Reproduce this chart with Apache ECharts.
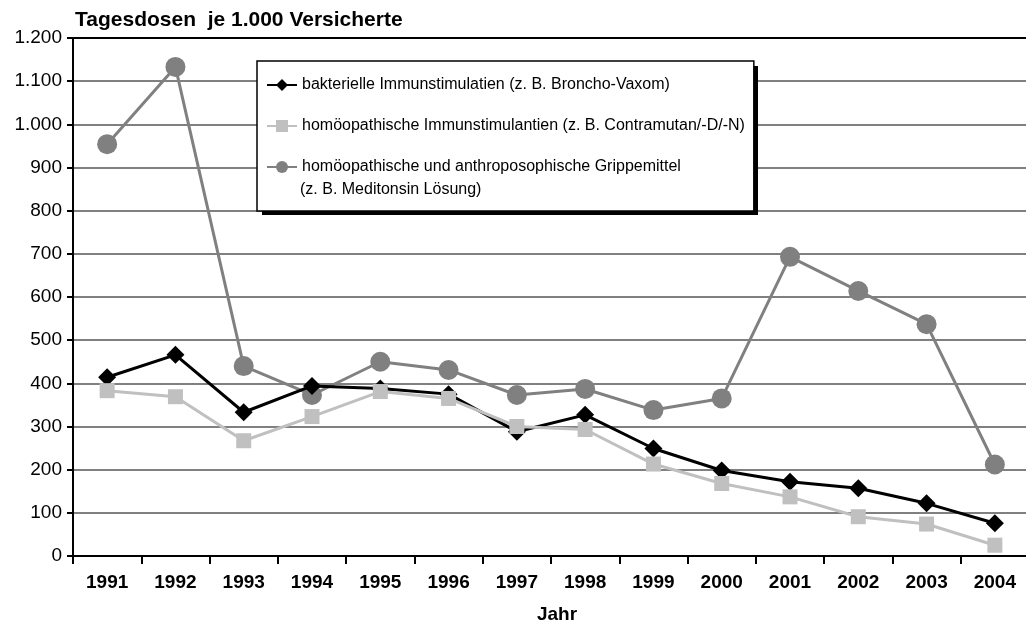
<!DOCTYPE html>
<html>
<head>
<meta charset="utf-8">
<script src="https://cdn.jsdelivr.net/npm/echarts@6/dist/echarts.min.js"></script>
<style>
  html, body { margin: 0; padding: 0; background: #fff; }
  #chart { width: 1026px; height: 623px; }
</style>
</head>
<body>
<div id="chart"></div>
<script>
// values
var years = ['1991', '1992', '1993', '1994', '1995', '1996', '1997',
             '1998', '1999', '2000', '2001', '2002', '2003', '2004'];
var bakterielle = [414, 466, 333, 394, 388, 375, 288, 327, 249, 198, 172, 157, 122, 76];
var homoeoImmun = [383, 369, 267, 323, 381, 365, 300, 293, 213, 168, 137, 91, 74, 25];
var grippemittel = [954, 1133, 440, 373, 450, 431, 373, 387, 338, 365, 693, 614, 537, 212];

var names = [
  'bakterielle Immunstimulatien (z. B. Broncho-Vaxom)',
  'homöopathische Immunstimulantien (z. B. Contramutan/-D/-N)',
  'homöopathische und anthroposophische Grippemittel'
];
var nameLine2 = '(z. B. Meditonsin Lösung)';

var font = '"Liberation Sans", Arial, sans-serif';

function deNumber(v) {
  // 1200 -> 1.200
  return String(v).replace(/\B(?=(\d{3})+(?!\d))/g, '.');
}

var gridColors = [];
for (var i = 0; i < 12; i++) gridColors.push('#808080');
gridColors.push('#000');   // top border at 1.200

var chart = echarts.init(document.getElementById('chart'));

var option = {
  animation: false,
  backgroundColor: '#fff',
  textStyle: {fontFamily: font},
  title: {
    text: 'Tagesdosen  je 1.000 Versicherte',
    left: 75,
    top: 10,
    padding: 0,
    textStyle: {fontFamily: font, fontSize: 21, fontWeight: 'bold', color: '#000'}
  },
  grid: {left: 73, right: -3, top: 38, bottom: 67, containLabel: false, outerBoundsMode: 'none'},
  legend: {
    orient: 'vertical',
    left: 257,
    top: 61,
    padding: [16, 9, 36, 9],
    itemGap: 25,
    itemWidth: 30,
    itemHeight: 15,
    backgroundColor: '#fff',
    borderColor: '#000',
    borderWidth: 1.5,
    borderRadius: 0,
    textStyle: {fontFamily: font, fontSize: 16, color: '#000'},
    data: names
  },
  graphic: [
    {
      // drop shadow of the legend box
      type: 'rect',
      z: 3,
      shape: {x: 262, y: 66, width: 496, height: 149},
      style: {fill: '#000'}
    },
    {
      type: 'text',
      left: 300,
      top: 182,
      z: 100,
      style: {text: nameLine2, font: '16px ' + font, fill: '#000'}
    }
  ],
  xAxis: {
    type: 'category',
    data: years,
    boundaryGap: true,
    name: 'Jahr',
    nameLocation: 'middle',
    nameGap: 49,
    nameTextStyle: {fontFamily: font, fontSize: 19, fontWeight: 'bold', color: '#000', padding: [0, 0, 0, 12]},
    axisLine: {lineStyle: {color: '#000', width: 2}},
    axisTick: {show: true, length: 8, lineStyle: {color: '#000', width: 2}},
    axisLabel: {fontFamily: font, fontSize: 19, fontWeight: 'bold', color: '#000', margin: 17},
    splitLine: {show: false}
  },
  yAxis: {
    type: 'value',
    min: 0,
    max: 1200,
    interval: 100,
    axisLine: {show: true, lineStyle: {color: '#000', width: 2}},
    axisTick: {show: true, length: 6, lineStyle: {color: '#000', width: 2}},
    axisLabel: {fontFamily: font, fontSize: 19, color: '#000', margin: 11, formatter: deNumber},
    splitLine: {show: true, lineStyle: {color: gridColors, width: 2}}
  },
  series: [
    {
      name: names[0],
      type: 'line',
      data: bakterielle,
      z: 3,
      symbol: 'diamond',
      symbolSize: 18,
      lineStyle: {color: '#000', width: 3},
      itemStyle: {color: '#000'}
    },
    {
      name: names[1],
      type: 'line',
      data: homoeoImmun,
      z: 4,
      symbol: 'rect',
      symbolSize: 15,
      lineStyle: {color: '#c0c0c0', width: 3},
      itemStyle: {color: '#c0c0c0'}
    },
    {
      name: names[2],
      type: 'line',
      data: grippemittel,
      z: 2,
      symbol: 'circle',
      symbolSize: 20,
      lineStyle: {color: '#808080', width: 3},
      itemStyle: {color: '#808080'}
    }
  ]
};

chart.setOption(option);
</script>
</body>
</html>
